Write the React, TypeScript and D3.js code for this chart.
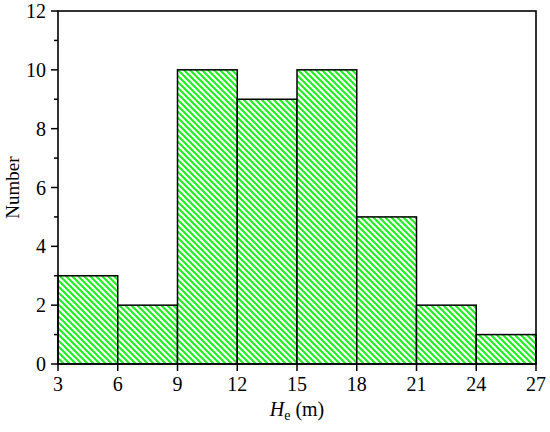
import React from "react";
import * as d3 from "d3";

const binStarts = [3, 6, 9, 12, 15, 18, 21, 24];
const binWidth = 3;
const counts = [3, 2, 10, 9, 10, 5, 2, 1];
const xTicks = [3, 6, 9, 12, 15, 18, 21, 24, 27];
const yTicks = [0, 2, 4, 6, 8, 10, 12];
const yMinor = [1, 3, 5, 7, 9, 11];

const W = 550, H = 432;
const m = { left: 58, right: 14, top: 11, bottom: 68 };

export default function App() {
  const x = d3.scaleLinear().domain([3, 27]).range([m.left, W - m.right]);
  const y = d3.scaleLinear().domain([0, 12]).range([H - m.bottom, m.top]);
  const font = "Liberation Serif, Times New Roman, serif";
  const y0 = y(0);
  return (
    <svg width={W} height={H} style={{ position: "absolute", left: 0, top: 0 }}>
      <defs>
        <pattern id="hatch" patternUnits="userSpaceOnUse" width={6} height={6}>
          <rect width={6} height={6} fill="#fff" />
          <path d="M-1,-1 L7,7 M-4,2 L1,7 M5,-1 L10,4" stroke="#19f019" strokeWidth={2} />
        </pattern>
      </defs>
      <rect x={0} y={0} width={W} height={H} fill="#fff" />
      {binStarts.map((s, i) => (
        <rect
          key={i}
          x={x(s)}
          y={y(counts[i])}
          width={x(s + binWidth) - x(s)}
          height={y0 - y(counts[i])}
          fill="url(#hatch)"
          stroke="#000"
          strokeWidth={1.5}
        />
      ))}
      <rect
        x={m.left}
        y={m.top}
        width={W - m.right - m.left}
        height={y0 - m.top}
        fill="none"
        stroke="#000"
        strokeWidth={1.6}
      />
      {yTicks.map((t) => (
        <g key={t}>
          <line x1={m.left - 7} x2={m.left} y1={y(t)} y2={y(t)} stroke="#000" strokeWidth={1.5} />
          <text x={m.left - 12} y={y(t)} dy="0.35em" textAnchor="end" style={{ fontFamily: font, fontSize: "20px" }}>
            {t}
          </text>
        </g>
      ))}
      {yMinor.map((t) => (
        <line key={t} x1={m.left - 4} x2={m.left} y1={y(t)} y2={y(t)} stroke="#000" strokeWidth={1.5} />
      ))}
      {xTicks.map((t) => (
        <g key={t}>
          <line x1={x(t)} x2={x(t)} y1={y0} y2={y0 + 7} stroke="#000" strokeWidth={1.5} />
          <text x={x(t)} y={y0 + 27} textAnchor="middle" style={{ fontFamily: font, fontSize: "20px" }}>
            {t}
          </text>
        </g>
      ))}
      <text
        transform={`translate(19,${(m.top + y0) / 2}) rotate(-90)`}
        textAnchor="middle"
        style={{ fontFamily: font, fontSize: "19px" }}
      >
        Number
      </text>
      <text x={(m.left + W - m.right) / 2} y={416} textAnchor="middle" style={{ fontFamily: font, fontSize: "20px" }}>
        <tspan fontStyle="italic">H</tspan>
        <tspan style={{ fontSize: "14px" }} dy={4}>e</tspan>
        <tspan dy={-4}> (m)</tspan>
      </text>
    </svg>
  );
}
